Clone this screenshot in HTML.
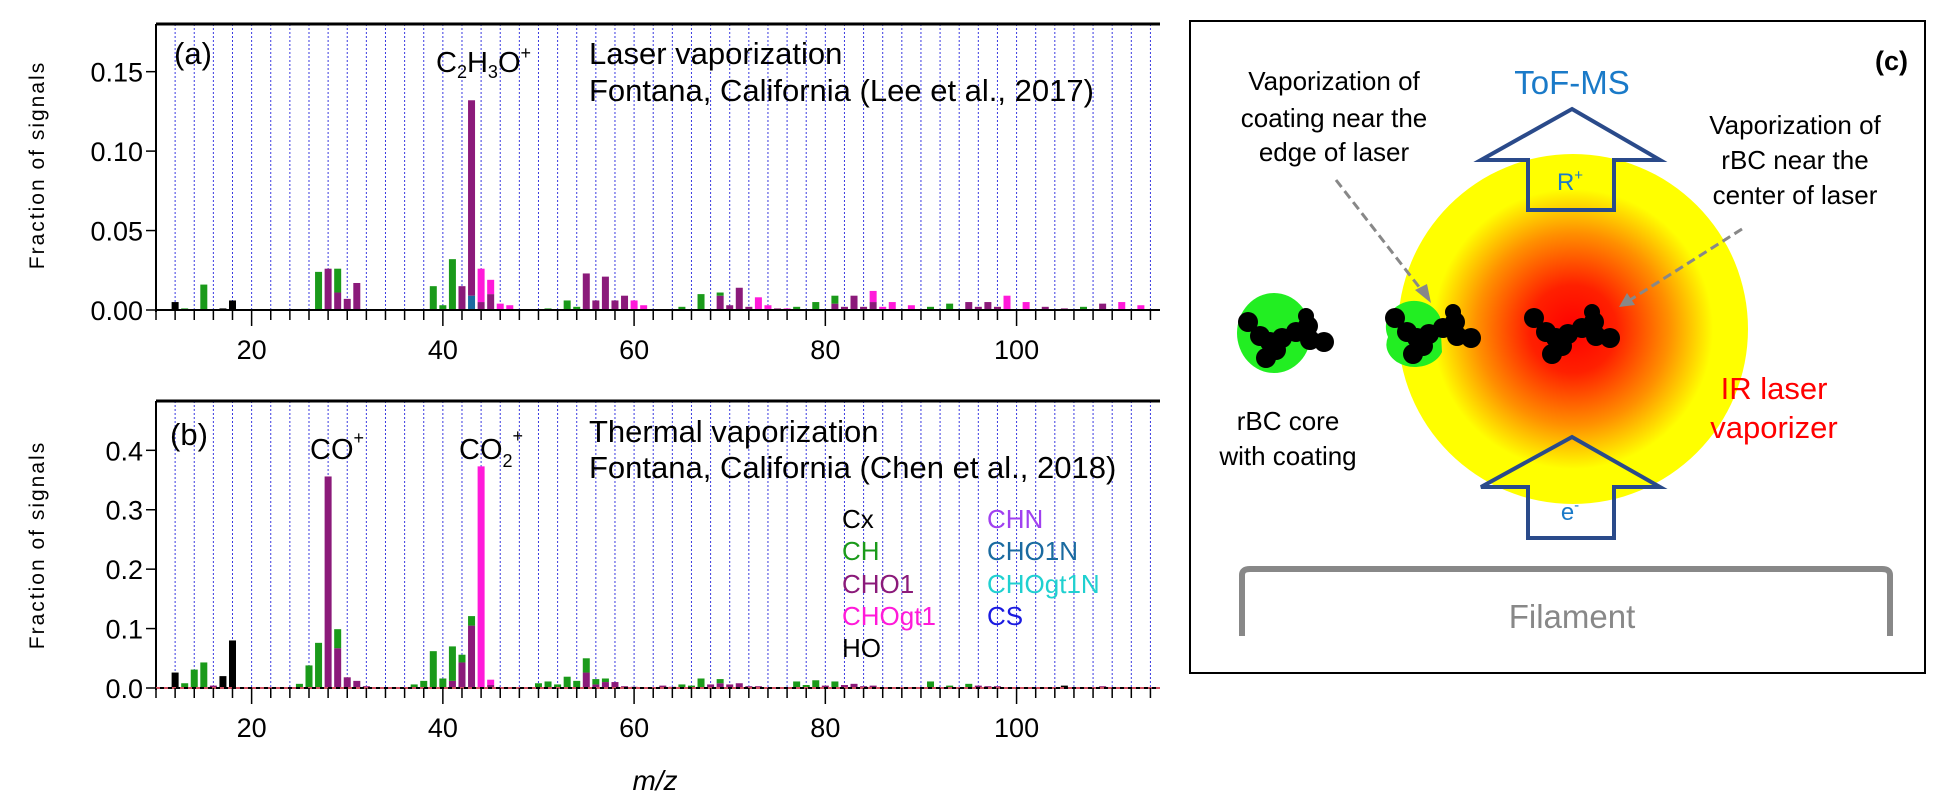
<!DOCTYPE html>
<html><head><meta charset="utf-8">
<style>
html,body{margin:0;padding:0;background:#fff;}
svg{display:block;}
.nar{font-family:"Liberation Sans Narrow","Liberation Sans",sans-serif;}
.sans{font-family:"Liberation Sans","DejaVu Sans",sans-serif;}
</style></head>
<body>
<svg id="fig" width="1945" height="801" viewBox="0 0 1945 801" xmlns="http://www.w3.org/2000/svg">
<defs>
<radialGradient id="laser" cx="0.5" cy="0.5" r="0.5">
<stop offset="0" stop-color="#ff0000"/>
<stop offset="0.25" stop-color="#ff2000"/>
<stop offset="0.55" stop-color="#ff9000"/>
<stop offset="0.8" stop-color="#ffff00"/>
<stop offset="1" stop-color="#ffff00"/>
</radialGradient>
<g id="agg"><circle cx="0" cy="0" r="10"/><circle cx="12" cy="14" r="10"/><circle cx="22" cy="20" r="10"/><circle cx="34" cy="16" r="10"/><circle cx="48" cy="10" r="10"/><circle cx="60" cy="4" r="10"/><circle cx="62" cy="18" r="10"/><circle cx="76" cy="20" r="10"/><circle cx="18" cy="36" r="10"/><circle cx="28" cy="28" r="10"/><circle cx="58" cy="-6" r="8"/></g>
</defs>
<g id="pa"></g>
<g id="pb"></g>

<text class="sans" x="44" y="165" font-size="21" letter-spacing="2" text-anchor="middle" transform="rotate(-90 44 165)">Fraction of signals</text>
<text class="sans" x="44" y="545" font-size="21" letter-spacing="2" text-anchor="middle" transform="rotate(-90 44 545)">Fraction of signals</text>
<text class="nar" x="655" y="790" font-size="28" font-style="italic" text-anchor="middle">m/z</text>

<g class="nar" font-size="31">
<text x="174" y="64">(a)</text>
<text x="436" y="72" font-size="29">C<tspan font-size="18" dy="6">2</tspan><tspan dy="-6">H</tspan><tspan font-size="18" dy="6">3</tspan><tspan dy="-6">O</tspan><tspan font-size="18" dy="-13">+</tspan></text>
<text x="589" y="64">Laser vaporization</text>
<text x="589" y="101">Fontana, California (Lee et al., 2017)</text>
</g>
<g class="nar" font-size="31">
<text x="170" y="445">(b)</text>
<text x="310" y="459" font-size="29">CO<tspan font-size="18" dy="-15">+</tspan></text>
<text x="459" y="459" font-size="29">CO<tspan font-size="18" dy="8">2</tspan><tspan font-size="18" dy="-25">+</tspan></text>
<text x="589" y="442">Thermal vaporization</text>
<text x="589" y="478">Fontana, California (Chen et al., 2018)</text>
</g>
<g class="nar" font-size="26">
<text x="842" y="528" fill="#000">Cx</text>
<text x="842" y="560" fill="#1a9a1a">CH</text>
<text x="842" y="593" fill="#8b1a7a">CHO1</text>
<text x="842" y="625" fill="#ff1ad9">CHOgt1</text>
<text x="842" y="657" fill="#000">HO</text>
<text x="987" y="528" fill="#a040f0">CHN</text>
<text x="987" y="560" fill="#1a6aa0">CHO1N</text>
<text x="987" y="593" fill="#20d0d0">CHOgt1N</text>
<text x="987" y="625" fill="#1a1ae0">CS</text>
</g>

<!-- Panel c schematic -->
<g>
<rect x="1190" y="21" width="735" height="652" fill="#fff" stroke="#000" stroke-width="2"/>
<text class="sans" x="1908" y="70" font-size="27" font-weight="bold" text-anchor="end">(c)</text>
<circle cx="1573" cy="329" r="175" fill="url(#laser)"/>
<polygon points="1572,109 1660,160 1614,160 1614,210 1528,210 1528,160 1481,160" fill="none" stroke="#2a4a8a" stroke-width="4"/>
<polygon points="1572,437 1660,487 1614,487 1614,538 1528,538 1528,487 1481,487" fill="none" stroke="#2a4a8a" stroke-width="4"/>
<text class="sans" x="1570" y="190" font-size="24" fill="#1a7ac8" text-anchor="middle">R<tspan font-size="15" dy="-10">+</tspan></text>
<text class="sans" x="1570" y="520" font-size="24" fill="#1a7ac8" text-anchor="middle">e<tspan font-size="15" dy="-10">-</tspan></text>
<text class="sans" x="1572" y="94" font-size="33" fill="#1a7ac8" text-anchor="middle">ToF-MS</text>
<g class="sans" font-size="26" text-anchor="middle">
<text x="1334" y="90">Vaporization of</text><text x="1334" y="127">coating near the</text><text x="1334" y="161">edge of laser</text></g>
<g class="sans" font-size="26" text-anchor="middle">
<text x="1795" y="134">Vaporization of</text><text x="1795" y="169">rBC near the</text><text x="1795" y="204">center of laser</text></g>
<g class="sans" font-size="26" text-anchor="middle">
<text x="1288" y="430">rBC core</text><text x="1288" y="465">with coating</text></g>
<g class="sans" font-size="31" fill="#ff0000" text-anchor="middle">
<text x="1774" y="399">IR laser</text><text x="1774" y="438">vaporizer</text></g>
<g stroke="#888" stroke-width="3" stroke-dasharray="9,5" fill="none">
<line x1="1336" y1="180" x2="1423" y2="292"/><line x1="1742" y1="229" x2="1630" y2="300"/></g>
<polygon points="1431,303 1415,290 1427,284" fill="#888"/>
<polygon points="1619,307 1627,293 1635,305" fill="#888"/>
<ellipse cx="1274" cy="333" rx="37" ry="40" fill="#22ee22"/>
<path d="M1388,337 a28,26 0 0 1 52,-20 L1442,352 a28,22 0 0 1 -54,-15z" fill="#22ee22"/>
<g fill="#000">
<use href="#agg" x="1248" y="322"/><use href="#agg" x="1395" y="318"/><use href="#agg" x="1534" y="318"/>
</g>
<path d="M1242,636 L1242,575 Q1242,569 1250,569 L1882,569 Q1890,569 1890,575 L1890,636" fill="none" stroke="#888" stroke-width="6"/>
<text class="sans" x="1572" y="628" font-size="33" fill="#888" text-anchor="middle">Filament</text>
</g>
</svg>
<script>
// Panel (a) data: laser vaporization
const mzA    = [12,13,15,17,18,27,28,29,30,31,39,40,41,42,43,44,45,46,47,51,53,54,55,56,57,58,59,60,61,65,67,69,70,71,72,73,74,75,76,77,79,81,82,83,84,85,86,87,89,91,93,95,96,97,98,99,101,103,105,107,109,111,113];
const cxA    = [0.005,0,0,0.001,0.006,0,0,0,0,0,0,0,0,0,0,0,0,0,0,0,0,0,0,0,0,0,0,0,0,0,0,0,0,0,0,0,0,0,0,0,0,0,0,0,0,0,0,0,0,0,0,0,0,0,0,0,0,0,0,0,0,0,0];
const cho1nA = [0,0,0,0,0,0,0,0,0,0,0,0,0,0,0.009,0,0,0,0,0,0,0,0,0,0,0,0,0,0,0,0,0,0,0,0,0,0,0,0,0,0,0,0,0,0,0,0,0,0,0,0,0,0,0,0,0,0,0,0,0,0,0,0];
const cho1A  = [0,0,0,0,0,0,0.026,0.011,0.007,0.017,0,0,0,0.015,0.123,0.005,0.010,0,0,0,0,0,0.023,0.006,0.021,0.006,0.009,0,0,0,0,0.009,0.003,0.014,0.002,0,0,0.001,0,0,0,0.004,0.002,0.009,0.002,0.005,0,0,0,0,0,0.005,0.002,0.005,0.002,0,0,0.002,0.001,0,0.004,0,0];
const chogtA = [0,0,0,0,0,0,0,0,0,0,0,0,0,0,0,0.021,0.009,0.004,0.003,0,0,0,0,0,0,0,0,0.006,0.003,0,0,0,0,0,0,0.008,0.003,0,0.001,0,0,0,0,0,0,0.007,0.002,0.005,0.003,0,0,0,0,0,0,0.009,0.005,0,0,0,0,0.005,0.003];
const chA    = [0,0.001,0.016,0,0,0.024,0,0.015,0,0,0.015,0.003,0.032,0,0,0,0,0,0,0.001,0.006,0.002,0,0,0,0,0,0,0,0.002,0.010,0.002,0,0,0,0,0,0,0,0.002,0.005,0.005,0,0,0,0,0,0,0,0.002,0.004,0,0,0,0,0,0,0,0,0.002,0,0,0];
const yTicksA = [0.00,0.05,0.10,0.15];
const yLabelsA = ["0.00","0.05","0.10","0.15"];
// Panel (b) data: thermal vaporization
const mzB    = [12,13,14,15,16,17,18,25,26,27,28,29,30,31,32,37,38,39,40,41,42,43,44,45,50,51,52,53,54,55,56,57,58,59,60,63,64,65,66,67,68,69,70,71,72,73,77,78,79,80,81,82,83,84,85,91,93,95,96,97,98,105,109];
const cxB    = [0.026,0,0,0,0,0.020,0.080,0,0,0,0,0,0,0,0,0,0,0,0,0,0,0,0,0,0,0,0,0,0,0,0,0,0,0,0,0,0,0,0,0,0,0,0,0,0,0,0,0,0,0,0,0,0,0,0,0,0,0,0,0,0,0.004,0];
const cho1nB = [0,0,0,0,0,0,0,0,0,0,0,0,0,0,0,0,0,0,0,0,0,0,0,0,0,0,0,0,0,0,0,0,0,0,0,0,0,0,0,0,0,0,0,0,0,0,0,0,0,0,0,0,0,0,0,0,0,0,0,0,0,0,0];
const cho1B  = [0,0,0,0,0.004,0,0,0,0,0,0.356,0.067,0.018,0.012,0.003,0,0,0,0,0.012,0.043,0.105,0,0.005,0,0,0,0,0,0.026,0.006,0.010,0.010,0.003,0.002,0.004,0.002,0,0,0,0.006,0.008,0.006,0.008,0.003,0.003,0,0,0,0.004,0,0.005,0.007,0.003,0.004,0,0,0,0.004,0.003,0.003,0,0.003];
const chogtB = [0,0,0,0,0,0,0,0,0,0,0,0,0,0,0,0,0,0,0,0,0,0,0.373,0.009,0,0,0,0,0,0,0,0,0,0,0,0,0,0,0,0,0,0,0,0,0,0,0,0,0,0,0,0,0,0,0,0,0,0,0,0,0,0,0];
const chB    = [0,0.008,0.031,0.043,0,0,0,0.007,0.038,0.076,0,0.032,0,0,0,0.006,0.012,0.062,0.016,0.058,0.013,0.016,0,0,0.008,0.011,0.006,0.019,0.012,0.024,0.009,0.006,0,0,0,0,0,0.006,0.004,0.016,0,0.007,0,0,0,0,0.011,0.005,0.013,0,0.011,0,0,0,0,0.011,0.004,0.007,0,0,0,0,0];
const yTicksB = [0.0,0.1,0.2,0.3,0.4];
const yLabelsB = ["0.0","0.1","0.2","0.3","0.4"];
const xTickLabels = [20,40,60,80,100];

const NS = "http://www.w3.org/2000/svg";
const colors = ["#000000","#1a6aa0","#8b1a7a","#ff1ad9","#1a9a1a"];
const seriesNames = ["cx","cho1n","cho1","chogt1","ch"];
function mk(tag, attrs, parent){
  const e = document.createElementNS(NS, tag);
  for (const k in attrs) e.setAttribute(k, attrs[k]);
  parent.appendChild(e);
  return e;
}
function drawPanel(g, top, y0, ymax, mz, series, yTicks, yLabels, zeroDash, tag){
  const left = 156, right = 1160, xmin = 10, xmax = 115;
  const xs = v => left + (v - xmin) / (xmax - xmin) * (right - left);
  const ys = v => y0 - v / ymax * (y0 - top);
  for (let m = 12; m <= 114; m += 2) {
    const l = mk("line", {x1: xs(m), x2: xs(m), y1: top, y2: y0, stroke: "#3a3ae0", "stroke-width": 1, "stroke-dasharray": "2,2"}, g);
    
    
  }
  const bw = 7;
  for (let i = 0; i < mz.length; i++) {
    let acc = 0;
    for (let s = 0; s < series.length; s++) {
      const v = series[s][i];
      if (!v) continue;
      const r = mk("rect", {x: xs(mz[i]) - bw/2, y: ys(acc + v), width: bw, height: Math.max(0.5, ys(acc) - ys(acc + v)), fill: colors[s]}, g);
      
      
      acc += v;
    }
  }
  const ax = mk("line", {x1: left, x2: left, y1: top, y2: y0 + 2, stroke: "#000", "stroke-width": 2}, g);
  
  
  const tp = mk("line", {x1: left, x2: right, y1: top, y2: top, stroke: "#000", "stroke-width": 3}, g);
  
  
  const zl = mk("line", {x1: left, x2: right, y1: y0, y2: y0, stroke: "#000", "stroke-width": 2}, g);
  
  
  if (zeroDash) {
    const zd = mk("line", {x1: left, x2: right, y1: y0, y2: y0, stroke: "#d05060", "stroke-width": 2, "stroke-dasharray": "4,4"}, g);
    
    
  }
  for (let m = 10; m <= 114; m += 2) {
    const major = m % 20 === 0;
    const t = mk("line", {x1: xs(m), x2: xs(m), y1: y0, y2: y0 + (major ? 16 : 10), stroke: "#000", "stroke-width": 1.5}, g);
    
    
  }
  for (const v of xTickLabels) {
    const t = mk("text", {x: xs(v), y: y0 + 49, "text-anchor": "middle", "font-size": 27, class: "nar"}, g);
    t.textContent = v;
    
    
  }
  for (let i = 0; i < yTicks.length; i++) {
    const y = ys(yTicks[i]);
    const t = mk("line", {x1: left - 10, x2: left, y1: y, y2: y, stroke: "#000", "stroke-width": 1.5}, g);
    
    
    const lb = mk("text", {x: left - 13, y: y + 10, "text-anchor": "end", "font-size": 27, class: "nar"}, g);
    lb.textContent = yLabels[i];
    
    
  }
}
drawPanel(document.getElementById("pa"), 24, 310, 0.18, mzA, [cxA, cho1nA, cho1A, chogtA, chA], yTicksA, yLabelsA, false, "a");
drawPanel(document.getElementById("pb"), 401, 688, 0.483, mzB, [cxB, cho1nB, cho1B, chogtB, chB], yTicksB, yLabelsB, true, "b");
</script>
</body></html>
